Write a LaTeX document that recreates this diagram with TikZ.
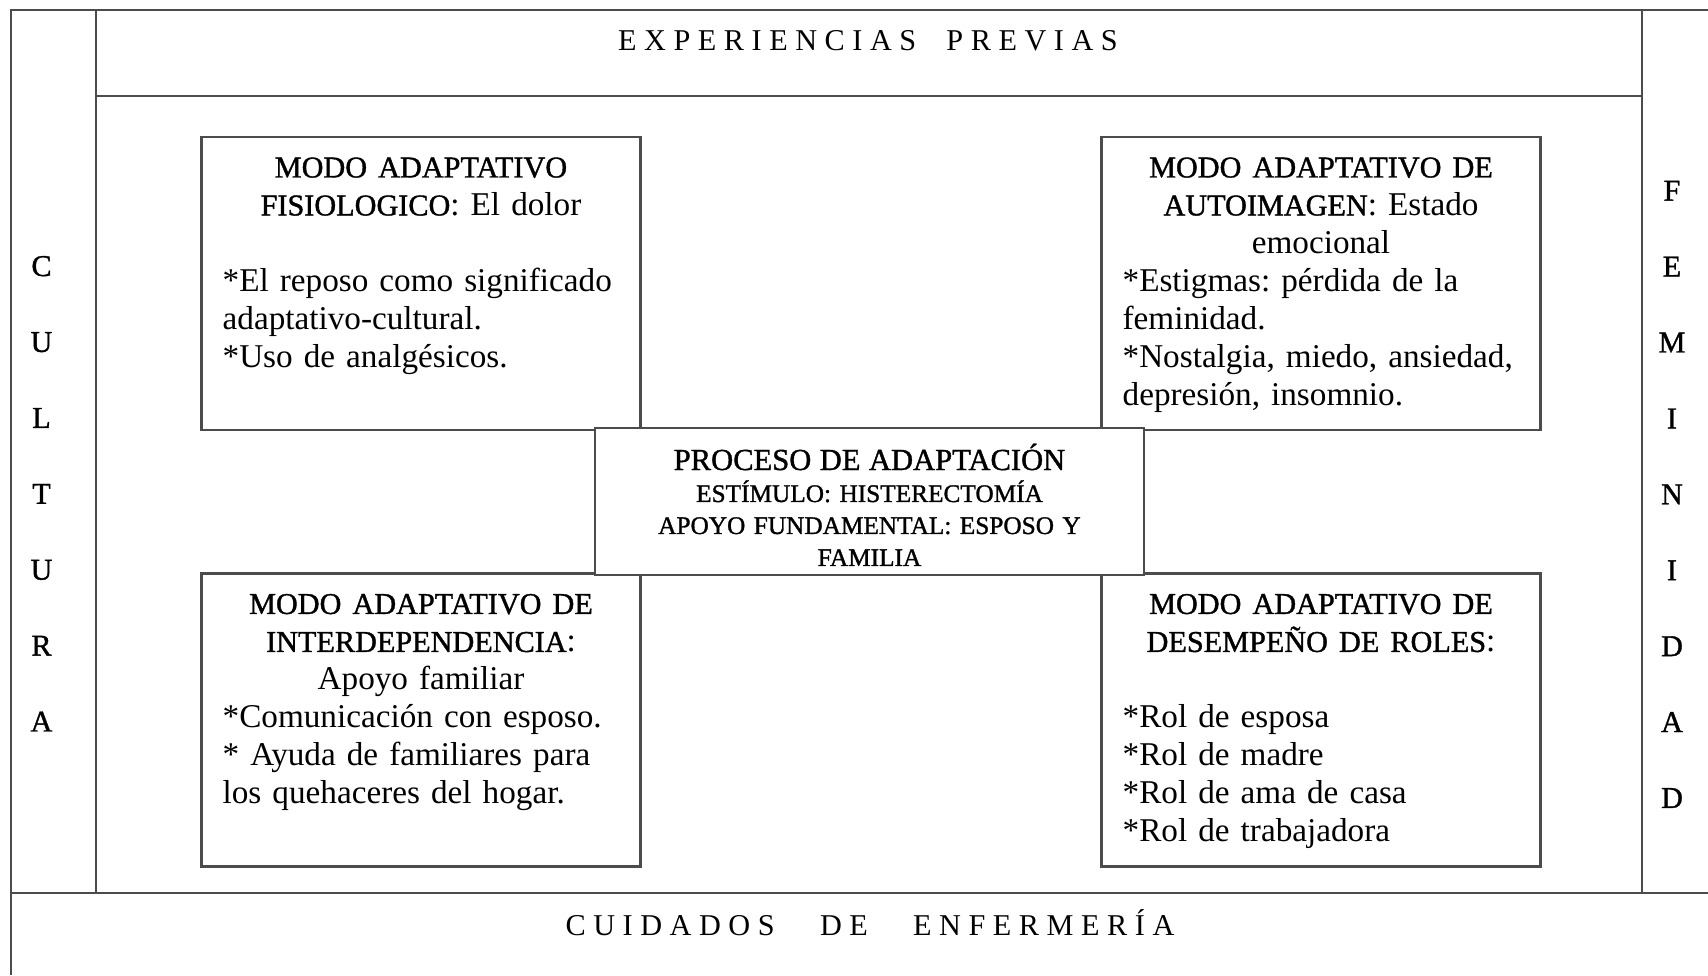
\documentclass[tikz,border=0pt]{standalone}
\usepackage{fontspec}
\setmainfont{Liberation Serif}
\newfontfamily\spacedfont[LetterSpace=25]{Liberation Serif}
\newfontfamily\headfont[FakeBold=1.2]{Liberation Serif}
\usepackage{tikz}
\newcommand{\bodyfont}{\fontsize{9.45}{10.8}\selectfont\frenchspacing}
\newcommand{\hd}[1]{{\headfont\fontsize{8.6}{10.8}\selectfont #1}}

\begin{document}
\begin{tikzpicture}[
  rule/.style={draw=black!70,line width=0.6pt},
  modebox/.style={rule,minimum width=4.39cm,minimum height=2.93cm,inner sep=0pt},
  headtext/.style={anchor=base,text width=4.39cm,align=center,inner sep=0pt,font=\bodyfont},
  bodytext/.style={anchor=base west,text width=4.3cm,align=left,inner sep=0pt,font=\bodyfont},
  sidetext/.style={anchor=base,text width=0.6cm,align=center,inner sep=0pt,font=\headfont\fontsize{8.6}{21.6}\selectfont},
  bandtext/.style={anchor=base,inner sep=0pt,font=\spacedfont\fontsize{8.6}{10}\selectfont}]
\useasboundingbox (0,0) rectangle (17.08,-9.75);
\draw[rule] (0.11,-9.75) -- (0.11,-0.10) -- (17.08,-0.10);
\draw[rule] (0.96,-0.10) -- (0.96,-8.93);
\draw[rule] (16.42,-0.10) -- (16.42,-8.93);
\draw[rule] (0.96,-0.96) -- (16.42,-0.96);
\draw[rule] (0.11,-8.93) -- (17.08,-8.93);
\node[bandtext] (previas) at (8.68,-0.50) {EXPERIENCIAS\ \ PREVIAS};
\node[bandtext] (cuidados) at (8.70,-9.35) {CUIDADOS\ \ \ DE\ \ \ ENFERMERÍA};
\node[sidetext] (cultura) at (0.415,-2.76) {C\\U\\L\\T\\U\\R\\A};
\node[sidetext] (feminidad) at (16.72,-2.006) {F\\E\\M\\I\\N\\I\\D\\A\\D};
\node[modebox] (fisio) at (4.21,-2.835) {};
\node[modebox] (autoimagen) at (13.21,-2.835) {};
\node[modebox] (interdep) at (4.21,-7.20) {};
\node[modebox] (roles) at (13.21,-7.20) {};
\node[rule,fill=white,minimum width=5.49cm,minimum height=1.47cm,inner sep=0pt] (proceso) at (8.695,-5.015) {};
\node[headtext] (fisiohead) at ([yshift=-4.15mm]fisio.north) {\hd{MODO ADAPTATIVO}\\ \hd{FISIOLOGICO}: El dolor};
\node[bodytext] (fisiobody) at ([xshift=2.15mm,yshift=-15.55mm]fisio.north west) {{*}El reposo como significado\\ adaptativo-cultural.\\ {*}Uso de analgésicos.};
\node[headtext] (autohead) at ([yshift=-4.15mm]autoimagen.north) {\hd{MODO ADAPTATIVO DE}\\ \hd{AUTOIMAGEN}: Estado\\ emocional};
\node[bodytext] (autobody) at ([xshift=2.15mm,yshift=-15.55mm]autoimagen.north west) {{*}Estigmas: pérdida de la\\ feminidad.\\ {*}Nostalgia, miedo, ansiedad,\\ depresión, insomnio.};
\node[headtext] (interhead) at ([yshift=-4.15mm]interdep.north) {\hd{MODO ADAPTATIVO DE}\\ \hd{INTERDEPENDENCIA}:\\ Apoyo familiar};
\node[bodytext] (interbody) at ([xshift=2.15mm,yshift=-15.55mm]interdep.north west) {{*}Comunicación con esposo.\\ {*} Ayuda de familiares para\\ los quehaceres del hogar.};
\node[headtext] (roleshead) at ([yshift=-4.15mm]roles.north) {\hd{MODO ADAPTATIVO DE}\\ \hd{DESEMPEÑO DE ROLES}:};
\node[bodytext] (rolesbody) at ([xshift=2.15mm,yshift=-15.55mm]roles.north west) {{*}Rol de esposa\\ {*}Rol de madre\\ {*}Rol de ama de casa\\ {*}Rol de trabajadora};
\node[anchor=base,text width=5.49cm,align=center,inner sep=0pt,font=\headfont\fontsize{7.2}{9.1}\selectfont] (procesotext) at (8.695,-4.70) {{\fontsize{8.7}{9.1}\selectfont PROCESO DE ADAPTACIÓN}\\ ESTÍMULO: HISTERECTOMÍA\\ APOYO FUNDAMENTAL: ESPOSO Y\\ FAMILIA};
\end{tikzpicture}
\end{document}
